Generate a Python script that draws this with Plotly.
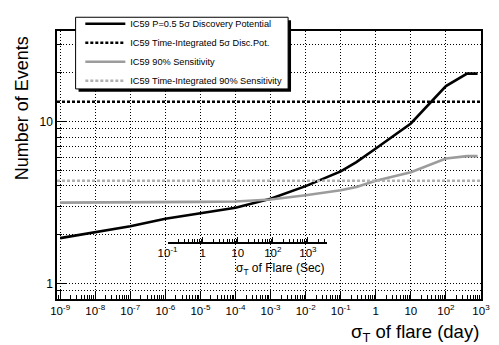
import math
import plotly.graph_objects as go

# ---------------- data ----------------
sigma_days = [1e-9, 1e-8, 1e-7, 1e-6, 1e-5, 1e-4, 1e-3, 1e-2, 1e-1, 0.28, 1, 10, 100, 400, 800]
disc_pot = [1.90, 2.07, 2.25, 2.50, 2.70, 2.93, 3.33, 3.98, 4.91, 5.6, 6.8, 9.7, 16.5, 19.7, 19.7]
sens_90 = [3.15, 3.15, 3.16, 3.17, 3.18, 3.20, 3.29, 3.50, 3.75, 3.93, 4.30, 4.85, 5.90, 6.10, 6.10]

ti_x = [8.13e-10, 1000]
ti_disc = [13.2, 13.2]
ti_sens = [4.3, 4.3]

names = [
    "IC59 P=0.5 5σ Discovery Potential",
    "IC59 Time-Integrated 5σ Disc.Pot.",
    "IC59 90% Sensitivity",
    "IC59 Time-Integrated 90% Sensitivity",
]

x_tickvals = [10.0 ** k for k in range(-9, 4)]
x_ticktext = ["10<sup>-9</sup>", "10<sup>-8</sup>", "10<sup>-7</sup>", "10<sup>-6</sup>",
              "10<sup>-5</sup>", "10<sup>-4</sup>", "10<sup>-3</sup>", "10<sup>-2</sup>",
              "10<sup>-1</sup>", "1", "10", "10<sup>2</sup>", "10<sup>3</sup>"]
y_tickvals = [1, 10]
y_ticktext = ["1", "10"]
y_minorvals = [0.9, 2, 3, 4, 5, 6, 7, 8, 9, 20, 30]

sec_tickvals = [0.1, 1, 10, 100, 1000]
sec_ticktext = ["10<sup>-1</sup>", "1", "10", "10<sup>2</sup>", "10<sup>3</sup>"]
sec_span = [0.1, 3600]
SEC_PER_DAY = 86400.0

x_range_days = [8.13e-10, 1000]
y_range = [0.8, 36.1]

FONT = "Liberation Sans, Arial, sans-serif"

# ---------------- figure ----------------
fig = go.Figure()
fig.add_trace(go.Scatter(x=sigma_days, y=disc_pot, mode="lines", name=names[0],
                         line=dict(color="black", width=2.6)))
fig.add_trace(go.Scatter(x=ti_x, y=ti_disc, mode="lines", name=names[1],
                         line=dict(color="black", width=2.6, dash="3px,2px")))
fig.add_trace(go.Scatter(x=sigma_days, y=sens_90, mode="lines", name=names[2],
                         line=dict(color="#9c9c9c", width=2.6)))
fig.add_trace(go.Scatter(x=ti_x, y=ti_sens, mode="lines", name=names[3],
                         line=dict(color="#b0b0b0", width=2.4, dash="3px,2px")))

# invisible trace carrying the secondary (seconds) axis
fig.add_trace(go.Scatter(x=sec_span, y=[None, None], xaxis="x2", yaxis="y2",
                         mode="lines", showlegend=False, hoverinfo="skip"))

lo, hi = math.log10(x_range_days[0]), math.log10(x_range_days[1])
d0 = (math.log10(sec_span[0] / SEC_PER_DAY) - lo) / (hi - lo)
d1 = (math.log10(sec_span[1] / SEC_PER_DAY) - lo) / (hi - lo)

def minor_vals(a, b):
    out = []
    for k in range(a, b):
        for m in range(2, 10):
            out.append(m * 10.0 ** k)
    return out

grid = dict(gridcolor="black", griddash="1px,2px", gridwidth=1)
x2_pos = (299 - 240.7) / 273

fig.update_layout(
    width=499, height=345,
    margin=dict(l=57, r=9, t=26, b=46),
    paper_bgcolor="white", plot_bgcolor="rgba(0,0,0,0)",
    font=dict(family=FONT, color="black", size=11),
    xaxis=dict(type="log", range=[lo, hi], tickmode="array",
               tickvals=x_tickvals, ticktext=x_ticktext,
               ticks="inside", ticklen=8, tickwidth=1, tickcolor="black",
               showgrid=True, **grid,
               minor=dict(tickmode="array", tickvals=minor_vals(-10, 3),
                          ticks="inside", ticklen=4, tickcolor="black", showgrid=False),
               showline=True, linecolor="black", linewidth=1.5, mirror=True,
               zeroline=False, tickfont=dict(size=11.5)),
    yaxis=dict(type="log", range=[math.log10(y_range[0]), math.log10(y_range[1])],
               tickmode="array", tickvals=y_tickvals, ticktext=y_ticktext,
               ticks="inside", ticklen=9, tickwidth=1, tickcolor="black",
               showgrid=True, **grid,
               minor=dict(tickmode="array", tickvals=y_minorvals,
                          ticks="inside", ticklen=5, tickcolor="black",
                          showgrid=True, gridcolor="black", griddash="1px,2px", gridwidth=1),
               showline=True, linecolor="black", linewidth=1.5, mirror=True,
               zeroline=False, tickfont=dict(size=12)),
    xaxis2=dict(type="log", domain=[d0, d1],
                range=[math.log10(sec_span[0]), math.log10(sec_span[1])],
                anchor="y2",
                tickmode="array", tickvals=sec_tickvals, ticktext=sec_ticktext,
                ticks="inside", ticklen=5, tickcolor="black",
                minor=dict(tickmode="array", tickvals=minor_vals(-1, 4),
                           ticks="inside", ticklen=3, tickcolor="black"),
                showline=True, linecolor="black", linewidth=1.5,
                showgrid=False, zeroline=False, tickfont=dict(size=11.5)),
    yaxis2=dict(visible=False, anchor="x2", domain=[x2_pos, x2_pos + 0.05], range=[0, 1]),
    legend=dict(x=0.055, y=1.081, xanchor="left", yanchor="top",
                bgcolor="rgba(0,0,0,0)", borderwidth=0,
                font=dict(family=FONT, size=9.2), itemwidth=40,
                tracegroupgap=0),
    showlegend=True,
)

# legend frame with ROOT-style drop shadow
px = lambda p: (p - 57) / 433.0
py = lambda p: (299 - p) / 273.0
fig.add_shape(type="rect", xref="paper", yref="paper", layer="above",
              x0=px(79), x1=px(296), y0=py(88), y1=py(15),
              fillcolor="black", line=dict(width=0))
fig.add_shape(type="rect", xref="paper", yref="paper", layer="above",
              x0=px(76), x1=px(293), y0=py(85), y1=py(12),
              fillcolor="white", line=dict(color="black", width=1))

fig.add_annotation(text="σ<sub>T</sub> of flare (day)", xref="paper", yref="paper",
                   x=1.0, y=py(334), xanchor="right", yanchor="middle",
                   showarrow=False, font=dict(size=18.5))
fig.add_annotation(text="Number of Events", xref="paper", yref="paper",
                   x=px(21), y=py(105), xanchor="center", yanchor="middle",
                   textangle=-90, showarrow=False, font=dict(size=18))
fig.add_annotation(text="σ<sub>T</sub> of Flare (Sec)", xref="paper", yref="paper",
                   x=px(333), y=py(268), xanchor="right", yanchor="middle",
                   showarrow=False, font=dict(size=12))

fig.write_html("out.html", config={"displayModeBar": False},
               post_script="document.body.style.margin='0';document.body.style.padding='0';")
